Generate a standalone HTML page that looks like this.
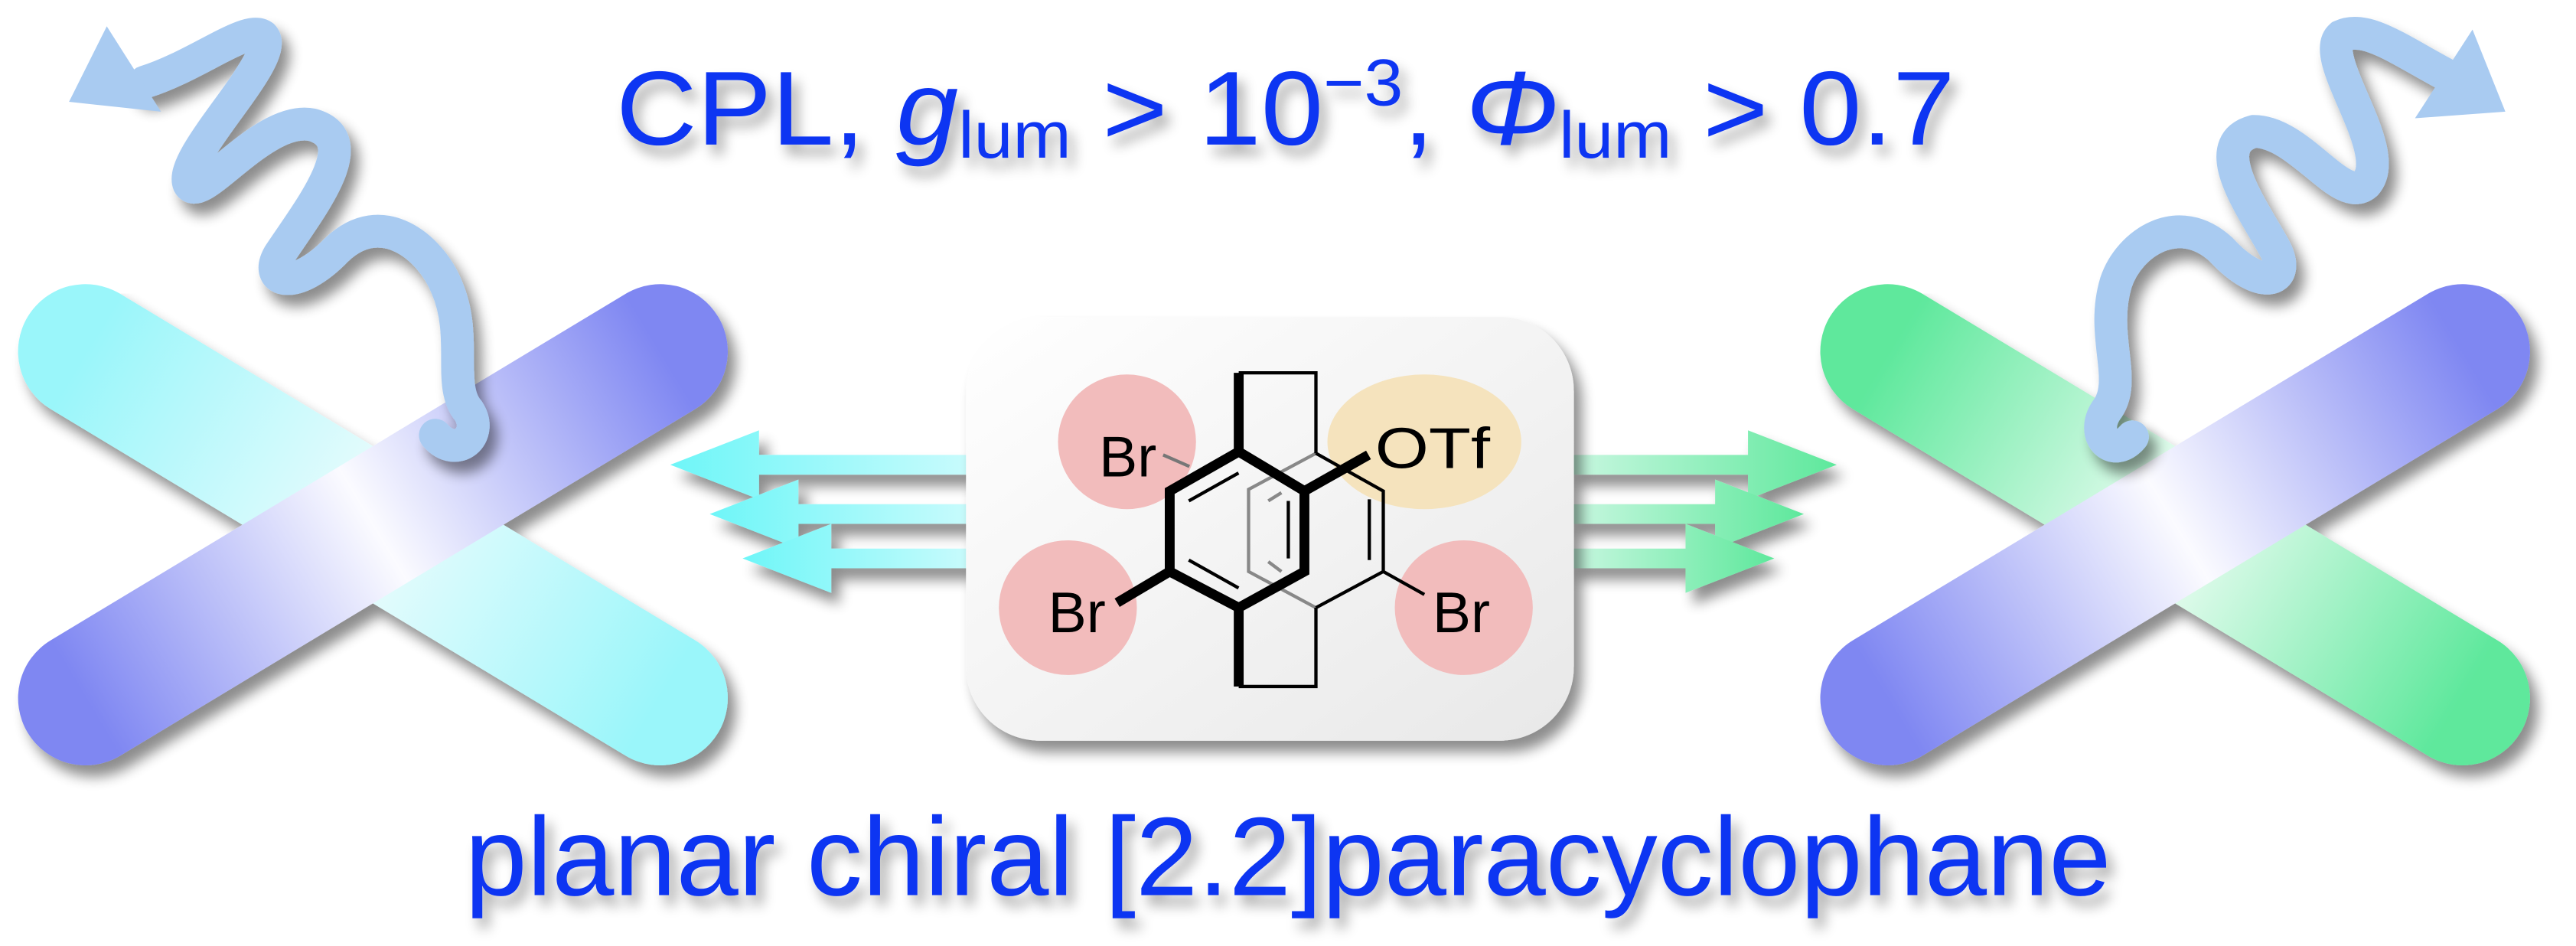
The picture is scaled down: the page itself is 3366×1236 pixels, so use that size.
<!DOCTYPE html>
<html><head><meta charset="utf-8"><style>
html,body{margin:0;padding:0;background:#fff;}
svg{display:block;}
</style></head><body>
<svg width="3366" height="1236" viewBox="0 0 1568 576" preserveAspectRatio="none" xmlns="http://www.w3.org/2000/svg">
<defs>
<filter id="sh" x="-20%" y="-20%" width="140%" height="160%"><feGaussianBlur in="SourceAlpha" stdDeviation="4"/><feOffset dx="5" dy="7"/><feComponentTransfer><feFuncA type="linear" slope="0.45"/></feComponentTransfer><feMerge><feMergeNode/><feMergeNode in="SourceGraphic"/></feMerge></filter>
<filter id="tsh" x="-10%" y="-30%" width="120%" height="170%"><feGaussianBlur in="SourceAlpha" stdDeviation="4"/><feOffset dx="4" dy="6"/><feComponentTransfer><feFuncA type="linear" slope="0.35"/></feComponentTransfer><feMerge><feMergeNode/><feMergeNode in="SourceGraphic"/></feMerge></filter>
<linearGradient id="cy" gradientUnits="userSpaceOnUse" x1="52" y1="214" x2="402" y2="425"><stop offset="0" stop-color="#9af6fa"/><stop offset="0.5" stop-color="#ecfcfd"/><stop offset="1" stop-color="#9af6fa"/></linearGradient>
<linearGradient id="pl" gradientUnits="userSpaceOnUse" x1="52" y1="425" x2="402" y2="214"><stop offset="0" stop-color="#7f87f2"/><stop offset="0.5" stop-color="#fbfbff"/><stop offset="1" stop-color="#7f87f2"/></linearGradient>
<linearGradient id="gr" gradientUnits="userSpaceOnUse" x1="1149" y1="214" x2="1499" y2="425"><stop offset="0" stop-color="#5ee89c"/><stop offset="0.5" stop-color="#effdf5"/><stop offset="1" stop-color="#5ee89c"/></linearGradient>
<linearGradient id="pr" gradientUnits="userSpaceOnUse" x1="1149" y1="425" x2="1499" y2="214"><stop offset="0" stop-color="#7f87f2"/><stop offset="0.5" stop-color="#fbfbff"/><stop offset="1" stop-color="#7f87f2"/></linearGradient>
<linearGradient id="box" x1="0" y1="0" x2="1" y2="1"><stop offset="0" stop-color="#ffffff"/><stop offset="1" stop-color="#e8e8e8"/></linearGradient>
<linearGradient id="ac" x1="0" y1="0" x2="1" y2="0"><stop offset="0" stop-color="#6ef6f8"/><stop offset="1" stop-color="#c8fbfc"/></linearGradient>
<linearGradient id="ag" x1="0" y1="0" x2="1" y2="0"><stop offset="0" stop-color="#c8f7e0"/><stop offset="1" stop-color="#5ee89c"/></linearGradient>
</defs>

<g filter="url(#sh)">
<line x1="52" y1="214" x2="402" y2="425" stroke="url(#cy)" stroke-width="82" stroke-linecap="round"/>
<line x1="52" y1="425" x2="402" y2="214" stroke="url(#pl)" stroke-width="82" stroke-linecap="round"/>
</g>
<g filter="url(#sh)">
<line x1="1149" y1="214" x2="1499" y2="425" stroke="url(#gr)" stroke-width="82" stroke-linecap="round"/>
<line x1="1149" y1="425" x2="1499" y2="214" stroke="url(#pr)" stroke-width="82" stroke-linecap="round"/>
</g>

<!-- left spring -->
<g fill="none" stroke="#a9cbf1" stroke-width="20" stroke-linecap="round" filter="url(#sh)">
<path d="M88 50 C120 40 150 15 160 22 C172 35 108 95 115 112 C122 125 160 70 190 76 C222 85 190 125 170 155 C160 172 180 178 205 152 C232 126 262 150 272 175 C285 205 272 235 285 250 C295 265 278 280 265 265"/>
</g>
<polygon points="42,62 65,16 98,68" fill="#a9cbf1"/>
<!-- right spring -->
<g fill="none" stroke="#a9cbf1" stroke-width="20" stroke-linecap="round" filter="url(#sh)">
<path d="M1488 45 C1460 30 1440 15 1425 22 C1410 35 1458 92 1440 112 C1425 125 1400 80 1372 80 C1342 88 1372 128 1385 152 C1395 172 1376 178 1352 152 C1326 128 1296 148 1288 172 C1278 205 1296 232 1282 250 C1272 265 1286 280 1298 266"/>
</g>
<polygon points="1470,72 1525,68 1505,18" fill="#a9cbf1"/>

<g filter="url(#sh)" fill="url(#ac)">
<polygon points="408,283 462,262 462,277 590,277 590,289 462,289 462,304"/>
<polygon points="432,313 486,292 486,307 590,307 590,319 486,319 486,334"/>
<polygon points="452,340 506,319 506,334 590,334 590,346 506,346 506,361"/>
</g>
<g filter="url(#sh)" fill="url(#ag)">
<polygon points="1118,283 1064,262 1064,277 956,277 956,289 1064,289 1064,304"/>
<polygon points="1098,313 1044,292 1044,307 956,307 956,319 1044,319 1044,334"/>
<polygon points="1080,340 1026,319 1026,334 956,334 956,346 1026,346 1026,361"/>
</g>

<rect x="588" y="193" width="370" height="258" rx="45" fill="url(#box)" filter="url(#sh)"/>
<ellipse cx="686" cy="269" rx="42" ry="41" fill="#f2bcbc"/>
<ellipse cx="867" cy="269" rx="59" ry="41" fill="#f5e3bd"/>
<ellipse cx="650" cy="370" rx="42" ry="41" fill="#f2bcbc"/>
<ellipse cx="891" cy="370" rx="42" ry="41" fill="#f2bcbc"/>
<g stroke="#888" stroke-width="2" fill="none">
<polyline points="801,276 760,298 760,348 801,370"/>
<line x1="772" y1="305" x2="780" y2="300"/>
<line x1="772" y1="342" x2="780" y2="348"/>
</g>
<g stroke="#000" stroke-width="2" fill="none">
<polyline points="754,227 801,227 801,276"/>
<polyline points="754,418 801,418 801,370"/>
<polyline points="801,276 842,299 842,348 801,370"/>
<line x1="833.5" y1="304" x2="833.5" y2="341"/>
<line x1="842" y1="348" x2="867" y2="362"/>
<line x1="723.6" y1="305" x2="753.9" y2="288"/>
<line x1="784.2" y1="305" x2="784.2" y2="340"/>
<line x1="723.6" y1="341" x2="753.9" y2="358"/>
<line x1="708" y1="277" x2="724" y2="284" stroke="#777"/>
</g>
<g stroke="#000" stroke-width="6" fill="none">
<polygon points="754,275 794,299 794,348 754,370 712,348 712,299"/>
<line x1="754" y1="227" x2="754" y2="275"/>
<line x1="754" y1="370" x2="754" y2="418"/>
<line x1="794" y1="299" x2="833" y2="277"/>
<line x1="712" y1="348" x2="680" y2="367"/>
</g>
<g font-family="Liberation Sans, sans-serif" font-size="35" fill="#000">
<text x="837" y="285" textLength="70" lengthAdjust="spacingAndGlyphs">OTf</text>
<text x="669" y="290">Br</text>
<text x="638" y="385">Br</text>
<text x="872" y="385">Br</text>
</g>

<text x="375" y="88" font-family="Liberation Sans, sans-serif" font-size="64" fill="#1034f2" filter="url(#tsh)" textLength="815" lengthAdjust="spacingAndGlyphs">CPL, <tspan font-style="italic">g</tspan><tspan font-size="40" dy="8">lum</tspan><tspan dy="-8"> &gt; 10</tspan><tspan font-size="40" dy="-24">−3</tspan><tspan dy="24">, </tspan><tspan font-style="italic">Φ</tspan><tspan font-size="40" dy="8">lum</tspan><tspan dy="-8"> &gt; 0.7</tspan></text>
<text x="283" y="545" font-family="Liberation Sans, sans-serif" font-size="68" fill="#1034f2" filter="url(#tsh)" textLength="1002" lengthAdjust="spacingAndGlyphs">planar chiral [2.2]paracyclophane</text>
</svg>
</body></html>
